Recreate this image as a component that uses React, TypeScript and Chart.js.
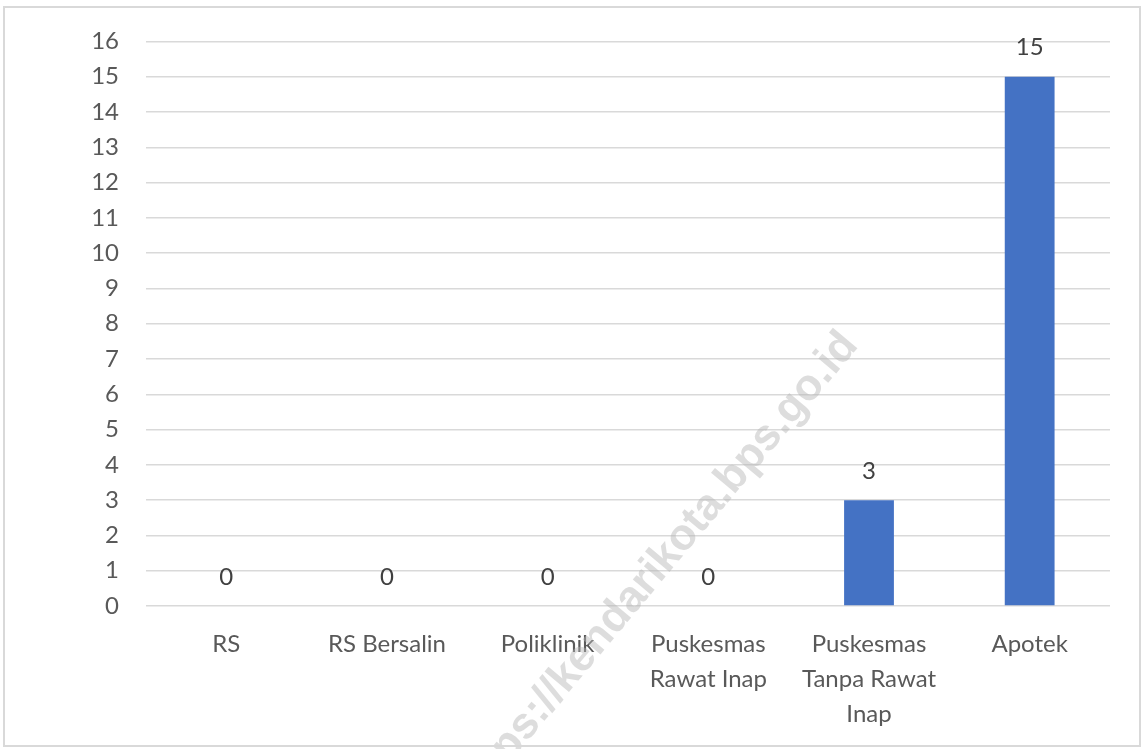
import React, { useEffect, useRef } from "react";
import { Chart, registerables } from "chart.js";

Chart.register(...registerables);

const categories: (string | string[])[] = [
  "RS",
  "RS Bersalin",
  "Poliklinik",
  ["Puskesmas", "Rawat Inap"],
  ["Puskesmas", "Tanpa Rawat", "Inap"],
  "Apotek",
];
const values: number[] = [0, 0, 0, 0, 3, 15];
const yMin = 0;
const yMax = 16;
const yStep = 1;
const watermark = "https://kendarikota.bps.go.id";

const FONT = "Lato, 'Open Sans', sans-serif";
const FS = 24;

const valueLabels = {
  id: "valueLabels",
  afterDatasetsDraw(chart: any) {
    const ctx = chart.ctx;
    const meta = chart.getDatasetMeta(0);
    ctx.save();
    ctx.font = `${FS}px ${FONT}`;
    ctx.fillStyle = "#404040";
    ctx.textAlign = "center";
    ctx.textBaseline = "middle";
    meta.data.forEach((el: any, i: number) => {
      ctx.fillText(String(values[i]), el.x, el.y - 29);
    });
    ctx.restore();
  },
};

const watermarkPlugin = {
  id: "watermark",
  afterDraw(chart: any) {
    const ctx = chart.ctx;
    ctx.save();
    ctx.translate(850, 338);
    ctx.rotate(-50 * Math.PI / 180);
    ctx.font = `bold 44px 'Liberation Sans', Arial, sans-serif`;
    ctx.fillStyle = "rgba(180,180,180,0.45)";
    ctx.textAlign = "right";
    ctx.textBaseline = "middle";
    ctx.fillText(watermark, 0, 0);
    ctx.restore();
  },
};

export default function App() {
  const ref = useRef<HTMLCanvasElement>(null);
  useEffect(() => {
    document.body.style.margin = "0";
    const chart = new Chart(ref.current!, {
      type: "bar",
      data: {
        labels: categories,
        datasets: [
          {
            data: values,
            backgroundColor: "#4472c4",
            barPercentage: 0.31,
            categoryPercentage: 1,
          },
        ],
      },
      options: {
        animation: false,
        responsive: false,
        maintainAspectRatio: false,
        layout: { padding: { top: 41, right: 33, left: 0, bottom: 0 } },
        plugins: { legend: { display: false }, tooltip: { enabled: false } },
        scales: {
          x: {
            grid: { display: false, drawTicks: false },
            border: { display: false },
            ticks: {
              color: "#595959",
              font: { family: FONT, size: FS, lineHeight: 35 / FS },
              padding: 21,
              maxRotation: 0,
              autoSkip: false,
            },
            afterFit: (s: any) => {
              s.height = 143;
            },
          },
          y: {
            min: yMin,
            max: yMax,
            grid: { color: "#d9d9d9", lineWidth: 1.5, drawTicks: false },
            border: { display: false },
            ticks: {
              stepSize: yStep,
              color: "#595959",
              font: { family: FONT, size: FS },
              padding: 27,
            },
            afterFit: (s: any) => {
              s.width = 146;
            },
          },
        },
      },
      plugins: [valueLabels, watermarkPlugin],
    });
    return () => chart.destroy();
  }, []);
  return (
    <div style={{ position: "fixed", left: 0, top: 0, width: 1143, height: 749, background: "#fff" }}>
      <canvas ref={ref} width={1143} height={749} style={{ position: "absolute", left: 0, top: 0 }} />
      <div
        style={{
          position: "absolute",
          left: 3,
          top: 6,
          width: 1138,
          height: 741,
          border: "2px solid #d9d9d9",
          boxSizing: "border-box",
          pointerEvents: "none",
        }}
      />
    </div>
  );
}
